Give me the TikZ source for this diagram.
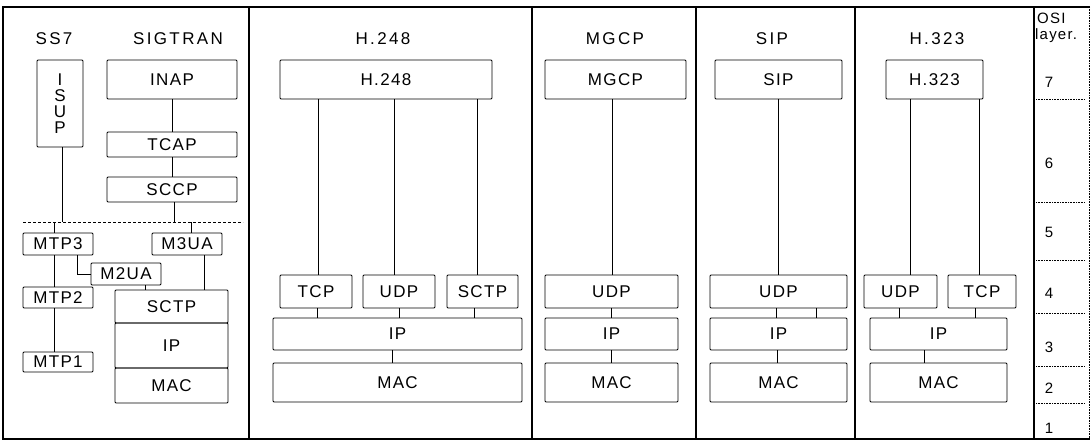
\documentclass[tikz,border=0pt]{standalone}
\usepackage{fontspec}
\setmainfont{Liberation Sans}[LetterSpace=8]
\newcommand\bx[6]{\node[blk, minimum width={#4-#2}, minimum height={#5-#3}] (#1) at ({(#2+#4)/2},{(#3+#5)/2}) {#6};}
\begin{document}
\begin{tikzpicture}[x=1pt,y=-1pt,
  blk/.style={draw, line width=0.8pt, rounded corners=1pt, inner sep=0pt, align=center, font=\fontsize{17}{16}\selectfont},
  ttl/.style={inner sep=0pt, font=\fontsize{17}{18}\selectfont\addfontfeature{LetterSpace=14}},
  osi/.style={inner sep=0pt, font=\fontsize{15}{16}\selectfont},
  con/.style={line width=0.8pt},
  sep/.style={line width=0.6pt, densely dotted},
  frame/.style={line width=1.6pt},
  divider/.style={line width=2.2pt}]
\useasboundingbox (0,0) rectangle (1091,444);
\fill[white] (0,0) rectangle (1091,444);
% frame
\draw[frame] (1090,7) -- (3,7) -- (3,439) -- (1090,439);
\draw[sep] (1089,7) -- (1089,439);
\foreach \x in {249,532,696,855,1034} \draw[divider] (\x,7) -- (\x,439);
% titles
\node[ttl] (tss7) at (54,39) {SS7};
\node[ttl] (tsig) at (178,39) {SIGTRAN};
\node[ttl] (th248) at (383,39) {H.248};
\node[ttl] (tmgcp) at (615,39) {MGCP};
\node[ttl] (tsip) at (772,39) {SIP};
\node[ttl] (th323) at (937,39) {H.323};
% SS7 / SIGTRAN
\bx{isup}{37}{60}{83}{147}{I\\S\\U\\P}
\bx{inap}{107}{60}{237}{99}{INAP}
\bx{tcap}{107}{132}{237}{157}{TCAP}
\bx{sccp}{107}{177}{237}{202}{SCCP}
\bx{mtp3}{23}{233}{93}{255}{MTP3}
\bx{m3ua}{152}{233}{222}{255}{M3UA}
\bx{m2ua}{91}{263}{161}{285}{M2UA}
\bx{mtp2}{23}{287}{93}{308}{MTP2}
\bx{mtp1}{23}{352}{93}{372}{MTP1}
\bx{sctpA}{115}{290}{228}{323}{SCTP}
\bx{ipA}{115}{323}{228}{368}{IP}
\bx{macA}{115}{368}{228}{403}{MAC}
\coordinate (d1) at (23,222);
\coordinate (d2) at (243,222);
\coordinate (j1) at (62,222);
\coordinate (j2) at (54,222);
\coordinate (j3) at (174,222);
\coordinate (j4) at (191,222);
\draw[line width=0.7pt, densely dashed] (d1) -- (d2);
\draw[con] (isup.south -| j1) -- (j1);
\draw[con] (j2) -- (mtp3.north -| j2);
\draw[con] (sccp.south -| j3) -- (j3);
\draw[con] (j4) -- (m3ua.north -| j4);
\draw[con] (inap) -- (tcap);
\draw[con] (tcap) -- (sccp);
\draw[con] (mtp3.south -| 54,0) -- (mtp2.north -| 54,0);
\draw[con] (mtp3.south -| 77,0) |- (m2ua.west);
\draw[con] (m2ua.south -| 145,0) -- (sctpA.north -| 145,0);
\draw[con] (m3ua.south -| 204,0) -- (sctpA.north -| 204,0);
\draw[con] (mtp2.south -| 54,0) -- (mtp1.north -| 54,0);
% H.248
\bx{h248}{280}{60}{492}{99}{H.248}
\bx{tcpB}{280}{275}{352}{308}{TCP}
\bx{udpB}{363}{275}{435}{308}{UDP}
\bx{sctpB}{447}{275}{518}{308}{SCTP}
\bx{ipB}{273}{318}{522}{350}{IP}
\bx{macB}{273}{363}{522}{402}{MAC}
\draw[con] (h248.south -| 318,0) -- (tcpB.north -| 318,0);
\draw[con] (h248.south -| 394,0) -- (udpB.north -| 394,0);
\draw[con] (h248.south -| 477,0) -- (sctpB.north -| 477,0);
\draw[con] (tcpB.south -| 317,0) -- (ipB.north -| 317,0);
\draw[con] (udpB.south -| 399,0) -- (ipB.north -| 399,0);
\draw[con] (sctpB.south -| 474,0) -- (ipB.north -| 474,0);
\draw[con] (ipB.south -| 392,0) -- (macB.north -| 392,0);
% MGCP
\bx{mgcp}{545}{60}{686}{99}{MGCP}
\bx{udpC}{545}{275}{678}{308}{UDP}
\bx{ipC}{545}{318}{678}{350}{IP}
\bx{macC}{545}{363}{678}{402}{MAC}
\draw[con] (mgcp.south -| 612,0) -- (udpC.north -| 612,0);
\draw[con] (udpC.south -| 611,0) -- (ipC.north -| 611,0);
\draw[con] (ipC.south -| 611,0) -- (macC.north -| 611,0);
% SIP
\bx{sip}{715}{60}{842}{99}{SIP}
\bx{udpD}{710}{275}{847}{308}{UDP}
\bx{ipD}{710}{318}{847}{350}{IP}
\bx{macD}{710}{363}{847}{402}{MAC}
\draw[con] (sip.south -| 778,0) -- (udpD.north -| 778,0);
\draw[con] (udpD.south -| 776,0) -- (ipD.north -| 776,0);
\draw[con] (udpD.south -| 816,0) -- (ipD.north -| 816,0);
\draw[con] (ipD.south -| 777,0) -- (macD.north -| 777,0);
% H.323
\bx{h323}{886}{60}{983}{99}{H.323}
\bx{udpE}{864}{275}{937}{308}{UDP}
\bx{tcpE}{948}{275}{1016}{308}{TCP}
\bx{ipE}{870}{318}{1007}{350}{IP}
\bx{macE}{870}{363}{1007}{402}{MAC}
\draw[con] (h323.south -| 910,0) -- (udpE.north -| 910,0);
\draw[con] (h323.south -| 979,0) -- (tcpE.north -| 979,0);
\draw[con] (udpE.south -| 899,0) -- (ipE.north -| 899,0);
\draw[con] (tcpE.south -| 975,0) -- (ipE.north -| 975,0);
\draw[con] (ipE.south -| 924,0) -- (macE.north -| 924,0);
% OSI column
\node[osi, anchor=west] (osiA) at (1037,18) {OSI};
\node[osi, anchor=west] (osiB) at (1035,36) {layer.};
\node[osi] (l7) at (1049,82) {7};
\node[osi] (l6) at (1049,163) {6};
\node[osi] (l5) at (1049,232) {5};
\node[osi] (l4) at (1049,293) {4};
\node[osi] (l3) at (1049,347) {3};
\node[osi] (l2) at (1049,388) {2};
\node[osi] (l1) at (1049,428) {1};
\foreach \y in {99,202,260,313,366,403} \draw[sep] (1036,\y) -- (1085,\y);
\end{tikzpicture}
\end{document}
